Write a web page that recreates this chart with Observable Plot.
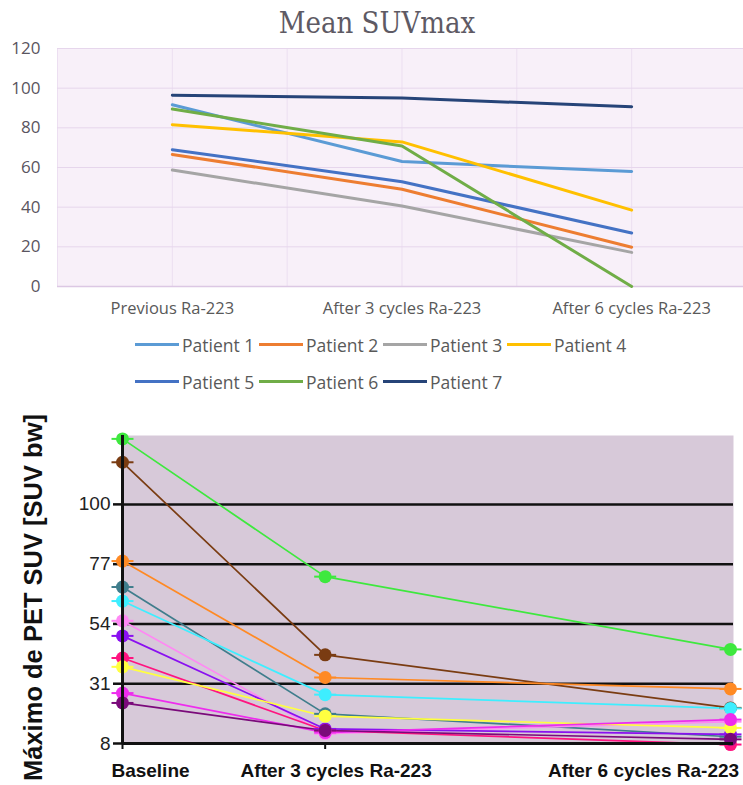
<!DOCTYPE html>
<html><head><meta charset="utf-8">
<script src="https://cdn.jsdelivr.net/npm/d3@7"></script>
<script src="https://cdn.jsdelivr.net/npm/@observablehq/plot@0.6"></script>
<style>
body{margin:0;background:#fff;width:743px;height:785px;overflow:hidden;position:relative;font-family:"Open Sans",sans-serif}
#title{position:absolute;top:5px;left:0;width:754px;text-align:center;font-family:"DejaVu Serif Condensed",serif;font-size:29px;line-height:36px;color:#5e5a64}
#top{position:absolute;top:0;left:0}
#legend{position:absolute;left:135px;top:326px;display:grid;grid-template-columns:124px 124px 124px 124px;grid-auto-rows:37px;font-size:17.5px;color:#595959}
#legend .it{display:flex;align-items:center;white-space:nowrap}
#legend .sw{display:inline-block;width:44px;height:3px;margin-right:3px}
#bottom{position:absolute;top:400px;left:0}
</style></head>
<body>
<div id="top"></div>
<div id="title">Mean SUVmax</div>
<div id="legend"></div>
<div id="bottom"></div>
<script>
// ---------- Top chart data ----------
const topCategories = ["Previous Ra-223", "After 3 cycles Ra-223", "After 6 cycles Ra-223"];
const topPatients = ["Patient 1", "Patient 2", "Patient 3", "Patient 4", "Patient 5", "Patient 6", "Patient 7"];
const topColors = ["#5b9bd5", "#ed7d31", "#a5a5a5", "#ffc000", "#4472c4", "#70ad47", "#264478"];
const patient1 = [91.6, 63, 58];
const patient2 = [66.6, 49, 19.8];
const patient3 = [58.7, 40.6, 17.2];
const patient4 = [81.6, 72.9, 38.5];
const patient5 = [69, 52.8, 27];
const patient6 = [89.5, 70.8, 0];
const patient7 = [96.4, 95, 90.6];
const topTicks = [0, 20, 40, 60, 80, 100, 120];
const topValues = [patient1, patient2, patient3, patient4, patient5, patient6, patient7];

// ---------- Bottom chart data ----------
const bottomLabels = ["Baseline", "After 3 cycles Ra-223", "After 6 cycles Ra-223"];
const bottomTimes = [0, 1, 3];
const bottomTicks = [8, 31, 54, 77, 100];
const bottomSeries = ["S1", "S2", "S3", "S4", "S5", "S6", "S7", "S8", "S9", "S10", "S11"];
const bottomColors = ["#3ee83e", "#7a3c12", "#ff8a24", "#3f7d8c", "#3eeeff", "#ff88f4", "#8a10f0", "#ff1480", "#ffff40", "#ee2cee", "#7a0a7a"];
const s1 = [125.2, 72.2, 44.2];
const s2 = [116.2, 42.1, 21.7];
const s3 = [78.2, 33.4, 29];
const s4 = [68.2, 19.4, 10.6];
const s5 = [62.8, 26.8, 21.5];
const s6 = [55.2, 11.8, 16.4];
const s7 = [49.4, 13.6, 11.5];
const s8 = [40.9, 13, 7.6];
const s9 = [37.5, 18.5, 14];
const s10 = [27.4, 12.2, 17.2];
const s11 = [23.6, 13, 9.6];
const bottomValues = [s1, s2, s3, s4, s5, s6, s7, s8, s9, s10, s11];

// ---------- Top chart ----------
const topData = topPatients.flatMap((p, i) => topValues[i].map((v, j) => ({patient: p, step: j, value: v})));
const topPlot = Plot.plot({
  width: 743, height: 330,
  marginLeft: 57, marginRight: 0, marginTop: 48, marginBottom: 44,
  x: {domain: [-0.5, 2.5], range: [57, 746], label: null},
  y: {domain: [0, 120], label: null},
  color: {domain: topPatients, range: topColors},
  style: {fontFamily: "'Open Sans', sans-serif", color: "#595959", background: "transparent"},
  marks: [
    Plot.frame({fill: "#f8f0f9", stroke: null}),
    Plot.gridX({ticks: [-0.5, 0, 0.5, 1, 1.5, 2, 2.5], stroke: "#ecdff1", strokeOpacity: 1}),
    Plot.gridY({ticks: topTicks, stroke: "#e6d6ec", strokeOpacity: 1}),
    Plot.ruleY([0], {stroke: "#dcc8e4", strokeWidth: 1.5}),
    Plot.axisY({ticks: topTicks, tickSize: 0, tickPadding: 17, fontSize: 17, fill: "#5a5560"}),
    Plot.axisX({ticks: [0, 1, 2], tickFormat: i => topCategories[i], tickSize: 0, tickPadding: 16, fontSize: 16.5, fill: "#595959"}),
    Plot.line(topData, {x: "step", y: "value", stroke: "patient", z: "patient", strokeWidth: 3})
  ]
});
document.getElementById("top").append(topPlot);

// legend
const legend = document.getElementById("legend");
topPatients.forEach((p, i) => {
  const it = document.createElement("div");
  it.className = "it";
  const sw = document.createElement("span");
  sw.className = "sw";
  sw.style.background = topColors[i];
  it.append(sw, document.createTextNode(p));
  legend.append(it);
});

// ---------- Bottom chart ----------
const bottomData = bottomSeries.flatMap((s, i) => bottomValues[i].map((v, j) => ({series: s, time: bottomTimes[j], value: v})));
const cap = {draw(ctx) { ctx.moveTo(-11, 0); ctx.lineTo(11, 0); }};
const labelShift = [28, 11, -87];
const bottomPlot = Plot.plot({
  width: 743, height: 385,
  marginLeft: 122, marginRight: 10, marginTop: 35, marginBottom: 42,
  x: {domain: [0, 3], range: [122, 730], label: null},
  y: {domain: [8, 126.5], label: null},
  color: {type: "ordinal", domain: bottomSeries, range: bottomColors},
  style: {fontFamily: "'Liberation Sans', Arial, sans-serif", color: "#111", background: "transparent"},
  marks: [
    Plot.frame({fill: "#d7c9d9", stroke: null}),
    Plot.gridY({ticks: bottomTicks, stroke: "#111", strokeOpacity: 1, strokeWidth: 2.5}),
    Plot.axisY({ticks: bottomTicks, tickSize: 9, tickPadding: 3, stroke: "#111", strokeWidth: 2.5, fontSize: 19, fill: "#222"}),
    Plot.axisX({ticks: bottomTimes, tickSize: 6, tickFormat: () => "", stroke: "#111", strokeWidth: 2}),
    ...bottomLabels.map((lab, i) => Plot.axisX({ticks: [bottomTimes[i]], tickSize: 0, tickPadding: 20, tickFormat: () => lab, dx: labelShift[i], fontSize: 19, fontWeight: "bold", fill: "#111"})),
    Plot.line(bottomData, {x: "time", y: "value", stroke: "series", z: "series", strokeWidth: 1.7}),
    Plot.dot(bottomData, {x: "time", y: "value", stroke: "series", symbol: cap, strokeWidth: 2}),
    Plot.dot(bottomData, {x: "time", y: "value", fill: "series", r: 6.5}),
    Plot.ruleX([0], {stroke: "#111", strokeWidth: 3}),
    Plot.ruleY([8], {stroke: "#111", strokeWidth: 3}),
    Plot.text(["Máximo de PET SUV [SUV bw]"], {frameAnchor: "left", textAnchor: "middle", rotate: -90, dx: -89, dy: 8, fontSize: 25.5, fontWeight: "bold", fill: "#111"})
  ]
});
document.getElementById("bottom").append(bottomPlot);
</script>
</body></html>
